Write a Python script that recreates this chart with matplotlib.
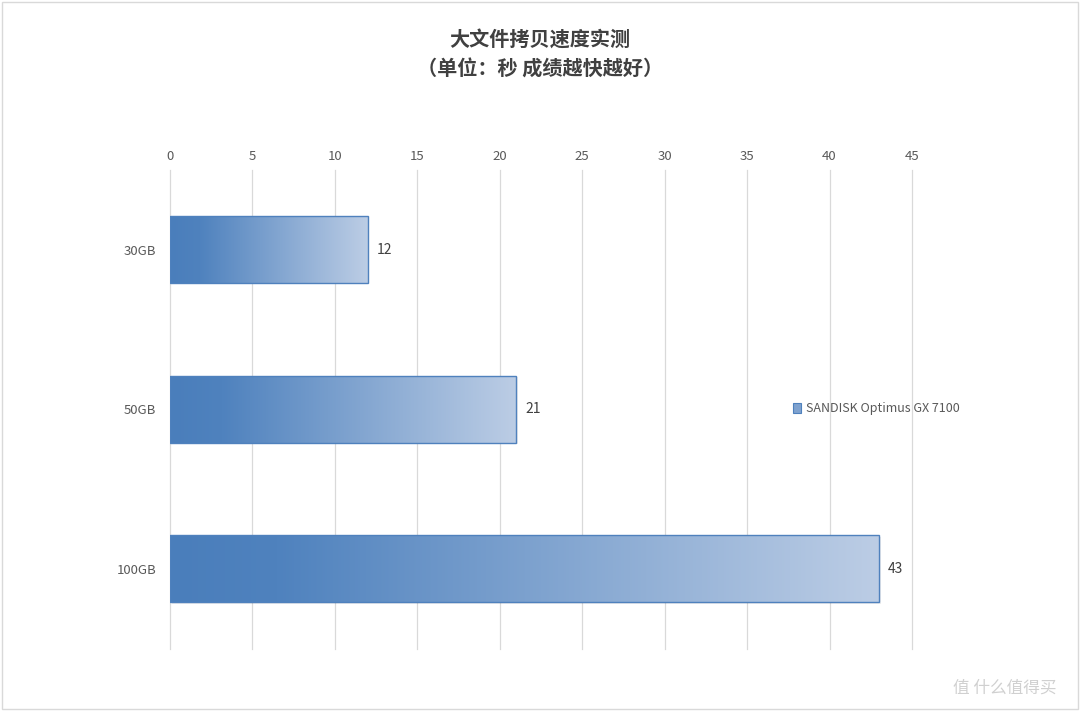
import matplotlib.pyplot as plt
import numpy as np
from matplotlib.colors import LinearSegmentedColormap
from matplotlib.patches import Rectangle

plt.rcParams['font.family'] = ['Noto Sans CJK SC', 'DejaVu Sans']

# data
categories = ['30GB', '50GB', '100GB']
values = [12, 21, 43]
series_name = 'SANDISK Optimus GX 7100'
title = '大文件拷贝速度实测\n（单位：秒 成绩越快越好）'

grad = LinearSegmentedColormap.from_list(
    'bar', [(0, '#4a7ebb'), (0.15, '#4f82be'), (1, '#bccde5')])

fig = plt.figure(figsize=(10.8, 7.11), dpi=100)
ax = fig.add_axes([0.1574, 0.0875, 0.687, 0.6737])

ax.set_xlim(0, 45)
ax.set_ylim(2.5, -0.5)
ax.set_xticks(range(0, 46, 5))
ax.xaxis.tick_top()
ax.set_yticks(range(len(categories)))
ax.set_yticklabels(categories)
ax.tick_params(axis='both', length=0, labelsize=9.5, colors='#595959')
ax.tick_params(axis='x', pad=5)
ax.tick_params(axis='y', pad=10)
for s in ax.spines.values():
    s.set_visible(False)
ax.grid(axis='x', color='#d9d9d9', linewidth=0.9)
for gl in ax.get_xgridlines():
    gl.set_clip_on(False)
ax.set_axisbelow(True)

h = 0.42
g = np.linspace(0, 1, 256).reshape(1, -1)
for i, v in enumerate(values):
    # soft shadow
    sh = Rectangle((0.1, i - h / 2 + 0.008), v, h, facecolor='#000000',
                   alpha=0.07, edgecolor='none', zorder=2)
    ax.add_patch(sh)
    im = ax.imshow(g, cmap=grad, aspect='auto',
                   extent=(0, v, i + h / 2, i - h / 2), zorder=3)
    r = Rectangle((0, i - h / 2), v, h, facecolor='none',
                  edgecolor='#4f81bd', linewidth=1.0, zorder=4)
    ax.add_patch(r)
    im.set_clip_path(r)
    ax.text(v + 0.55, i, str(v), va='center', ha='left', fontsize=10,
            color='#404040', zorder=5)

ax.set_xlim(0, 45)
ax.set_ylim(2.5, -0.5)

# legend
lx, ly = 0.734, 0.426
fig.patches.append(Rectangle((lx, ly - 0.007), 0.0075, 0.014,
                             transform=fig.transFigure, facecolor='#7fa2cf',
                             edgecolor='#4f81bd', linewidth=0.8))
fig.text(lx + 0.012, ly, series_name, fontsize=9, color='#595959',
         va='center', ha='left')

fig.text(0.5, 0.924, title, ha='center', va='center', fontsize=14.5,
         fontweight='bold', color='#404040', linespacing=1.5)

# outer border
fig.patches.append(Rectangle((0.002, 0.003), 0.996, 0.994,
                             transform=fig.transFigure, facecolor='none',
                             edgecolor='#d9d9d9', linewidth=1))

# watermark
fig.text(0.978, 0.032, '值 什么值得买', ha='right', va='center',
         fontsize=12, color='#d0d0d0')

fig.savefig('out.png', dpi=100)
